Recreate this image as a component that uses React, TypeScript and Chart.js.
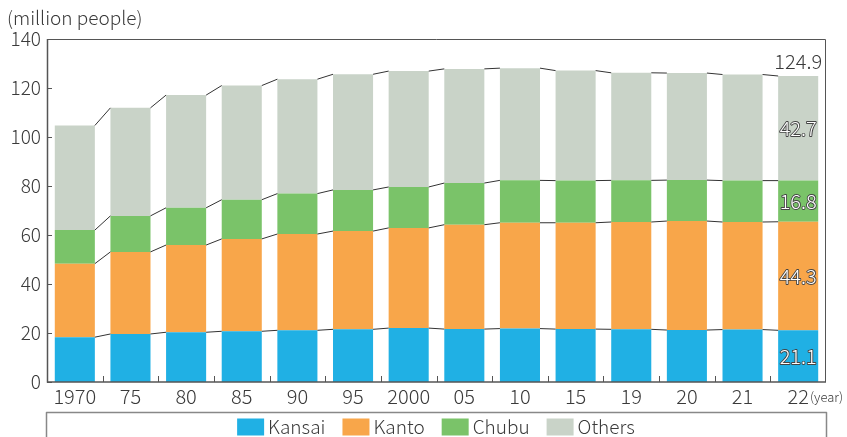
import React, { useEffect, useRef } from "react";
import { Chart, registerables } from "chart.js";

Chart.register(...registerables);

const categories = ["1970", "75", "80", "85", "90", "95", "2000", "05", "10", "15", "19", "20", "21", "22"];
const kansai = [18.3, 19.6, 20.3, 20.7, 21.1, 21.5, 22.0, 21.6, 21.8, 21.6, 21.5, 21.2, 21.4, 21.1];
const kanto = [30.0, 33.5, 35.6, 37.7, 39.3, 40.1, 40.9, 42.6, 43.2, 43.4, 43.8, 44.5, 43.9, 44.3];
const chubu = [13.7, 14.7, 15.2, 16.0, 16.5, 16.8, 16.7, 17.0, 17.3, 17.2, 17.0, 16.7, 16.9, 16.8];
const others = [42.7, 44.1, 46.0, 46.6, 46.7, 47.2, 47.3, 46.6, 45.8, 44.9, 43.9, 43.7, 43.3, 42.7];
const seriesNames = ["Kansai", "Kanto", "Chubu", "Others"];
const seriesColors = ["#20B0E4", "#F8A64A", "#7AC369", "#C9D3C8"];
const yTicks = [0, 20, 40, 60, 80, 100, 120, 140];
const yTitle = "(million people)";
const xUnit = "(year)";

const FONT = "'Noto Sans CJK JP', 'Open Sans', sans-serif";
const W = "300";
const TEXT = "#3a3a3a";

const decoPlugin = {
  id: "deco",
  afterDatasetsDraw(chart: any) {
    const ctx = chart.ctx as CanvasRenderingContext2D;
    const { left, right, top, bottom } = chart.chartArea;
    const xs = chart.scales.x;
    const ys = chart.scales.y;
    const n = categories.length;
    ctx.save();

    // connector lines
    ctx.strokeStyle = "#333";
    ctx.lineWidth = 1;
    for (let d = 0; d < chart.data.datasets.length; d++) {
      const meta = chart.getDatasetMeta(d);
      for (let i = 0; i < n - 1; i++) {
        const a: any = meta.data[i];
        const b: any = meta.data[i + 1];
        ctx.beginPath();
        ctx.moveTo(a.x + a.width / 2, a.y);
        ctx.lineTo(b.x - b.width / 2, b.y);
        ctx.stroke();
      }
    }

    // frame
    ctx.strokeStyle = "#555";
    ctx.lineWidth = 1;
    ctx.beginPath();
    ctx.moveTo(left, top + 0.5);
    ctx.lineTo(right - 0.5, top + 0.5);
    ctx.lineTo(right - 0.5, bottom);
    ctx.stroke();
    ctx.lineWidth = 1.5;
    ctx.beginPath();
    ctx.moveTo(left + 0.5, top);
    ctx.lineTo(left + 0.5, bottom);
    ctx.lineTo(right, bottom);
    ctx.stroke();

    // y ticks (inward)
    ctx.lineWidth = 1;
    yTicks.forEach((v) => {
      const y = Math.round(ys.getPixelForValue(v)) + 0.5;
      ctx.beginPath();
      ctx.moveTo(left, y);
      ctx.lineTo(left + 5, y);
      ctx.stroke();
    });
    // x ticks at category boundaries
    for (let i = 1; i < n; i++) {
      const x = Math.round((xs.getPixelForValue(i - 1) + xs.getPixelForValue(i)) / 2) + 0.5;
      ctx.beginPath();
      ctx.moveTo(x, bottom);
      ctx.lineTo(x, bottom - 6);
      ctx.stroke();
    }

    // last bar labels
    const last = n - 1;
    const vals = [kansai[last], kanto[last], chubu[last], others[last]];
    ctx.font = `${W} 20px ${FONT}`;
    ctx.textAlign = "center";
    ctx.textBaseline = "middle";
    ctx.lineJoin = "round";
    for (let d = 0; d < 4; d++) {
      const el: any = chart.getDatasetMeta(d).data[last];
      const cy = (el.y + el.base) / 2;
      const txt = vals[d].toFixed(1);
      ctx.strokeStyle = "#444";
      ctx.lineWidth = 1.8;
      ctx.strokeText(txt, el.x, cy);
      ctx.fillStyle = "#fff";
      ctx.fillText(txt, el.x, cy);
    }
    const topEl: any = chart.getDatasetMeta(3).data[last];
    const total = vals.reduce((s, v) => s + v, 0);
    ctx.fillStyle = TEXT;
    ctx.font = `${W} 20px ${FONT}`;
    ctx.fillText(total.toFixed(1), topEl.x, topEl.y - 15);

    // axis titles
    ctx.textAlign = "left";
    ctx.font = `${W} 19px ${FONT}`;
    ctx.fillText(yTitle, 7, 18);
    ctx.font = `${W} 13px ${FONT}`;
    ctx.fillText(xUnit, 810, 397);

    // legend box
    ctx.strokeStyle = "#888";
    ctx.lineWidth = 1.5;
    ctx.strokeRect(46.5, 412.5, 780, 60);
    ctx.font = `${W} 19px ${FONT}`;
    const sw = 27, sh = 17, gapT = 4, gapItem = 17;
    const widths = seriesNames.map((s) => sw + gapT + ctx.measureText(s).width);
    const totalW = widths.reduce((s, w) => s + w, 0) + gapItem * (seriesNames.length - 1);
    let x = (46 + 826) / 2 - totalW / 2;
    const ly = 427;
    seriesNames.forEach((s, i) => {
      ctx.fillStyle = seriesColors[i];
      ctx.fillRect(x, ly - sh / 2, sw, sh);
      ctx.fillStyle = TEXT;
      ctx.textBaseline = "middle";
      ctx.fillText(s, x + sw + gapT, ly);
      x += widths[i] + gapItem;
    });
    ctx.restore();
  },
};

export default function App() {
  const ref = useRef<HTMLCanvasElement>(null);
  useEffect(() => {
    if (!ref.current) return;
    const data = [kansai, kanto, chubu, others];
    const chart = new Chart(ref.current, {
      type: "bar",
      data: {
        labels: categories,
        datasets: seriesNames.map((name, i) => ({
          label: name,
          data: data[i],
          backgroundColor: seriesColors[i],
          borderWidth: 0,
          barPercentage: 0.72,
          categoryPercentage: 1,
        })),
      },
      options: {
        responsive: false,
        animation: false,
        devicePixelRatio: 1,
        layout: { padding: { top: 39, right: 21, left: 0, bottom: 0 } },
        plugins: { legend: { display: false }, tooltip: { enabled: false } },
        scales: {
          x: {
            stacked: true,
            grid: { display: false, drawTicks: false },
            border: { display: false },
            ticks: { color: TEXT, font: { size: 20, family: FONT, weight: W as any }, padding: 2, maxRotation: 0, autoSkip: false },
            afterFit: (s: any) => {
              s.height = 55;
            },
          },
          y: {
            stacked: true,
            min: 0,
            max: 140,
            grid: { display: false, drawTicks: false },
            border: { display: false },
            ticks: { stepSize: 20, color: TEXT, font: { size: 19, family: FONT, weight: W as any }, padding: 6 },
            afterFit: (s: any) => {
              s.width = 47;
            },
          },
        },
      },
      plugins: [decoPlugin],
    });
    return () => chart.destroy();
  }, []);
  return (
    <div style={{ position: "fixed", left: 0, top: 0, width: 847, height: 437, background: "#fff" }}>
      <canvas ref={ref} width={847} height={437} style={{ display: "block" }} />
    </div>
  );
}
